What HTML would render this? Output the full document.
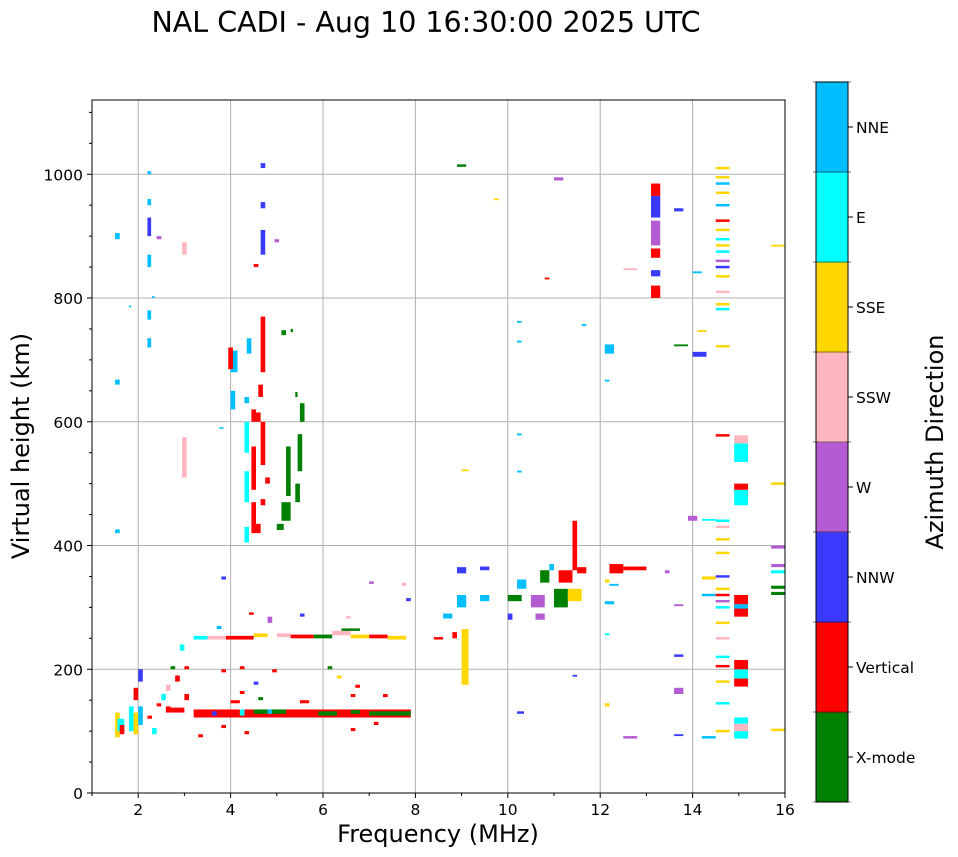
<!DOCTYPE html>
<html><head><meta charset="utf-8"><style>
body{margin:0;background:#fff;}
svg{display:block;font-family:"DejaVu Sans","Liberation Sans",sans-serif;}
</style></head><body>
<svg id="chart" width="958" height="857" viewBox="0 0 958 857">
<text x="426" y="32" font-size="28.5" text-anchor="middle">NAL CADI - Aug 10 16:30:00 2025 UTC</text>
<g id="grid"></g>
<g id="marks"></g>
<rect x="92" y="100" width="693" height="693" fill="none" stroke="#000" stroke-width="1"/>
<g id="axes"></g>
<text x="438" y="842" font-size="24" text-anchor="middle">Frequency (MHz)</text>
<text transform="translate(29,446) rotate(-90)" font-size="24" text-anchor="middle">Virtual height (km)</text>
<g id="cbar"></g>
<text transform="translate(943,442) rotate(-90)" font-size="24" text-anchor="middle">Azimuth Direction</text>
</svg>
<script>
const directions = ["X-mode","Vertical","NNW","W","SSW","SSE","E","NNE"];
const dirColors = ["#008000","#ff0000","#3a3aff","#b45ad2","#ffb6c1","#ffd700","#00ffff","#00bfff"];
const xTicks = [2,4,6,8,10,12,14,16];
const yTicks = [0,200,400,600,800,1000];
// echoes: [freqStart, freqEnd, heightLow, heightHigh, directionIndex]
const lowBand = [
[3.2,7.9,122,135,1],[4.5,5.2,128,135,0],[5.9,6.3,125,132,0],[7.0,7.9,125,132,0],[6.6,6.8,128,134,0],
[4.2,4.3,125,135,6],[4.8,4.9,128,135,7],[3.6,3.7,125,132,2],[4.0,4.2,145,150,1],[3.8,3.9,105,110,1],
[4.3,4.4,95,100,1],[4.2,4.3,160,165,1],[4.5,4.6,175,180,2],[4.6,4.7,150,155,0],[4.9,5.0,195,200,1],
[5.5,5.7,145,150,1],[6.1,6.2,200,205,0],[6.3,6.4,185,190,5],[6.6,6.7,155,160,1],[6.7,6.8,170,175,1],
[7.3,7.4,155,160,1],[6.6,6.7,100,105,1],[7.1,7.2,110,115,1],[2.7,2.8,200,205,0],[2.8,2.9,180,190,1],
[2.6,2.7,165,175,4],[2.5,2.6,150,160,6],[2.4,2.5,140,145,1],[2.2,2.3,120,125,1],[2.3,2.4,95,105,6],
[2.0,2.1,180,200,2],[1.9,2.0,150,170,1],[1.5,1.6,90,130,5],[1.55,1.7,100,120,6],[1.6,1.7,95,110,1],
[1.8,1.9,100,140,6],[1.9,2.0,95,130,5],[2.0,2.1,110,140,7],[2.6,2.7,130,140,1],[3.0,3.1,150,160,1],
[3.0,3.1,200,205,1],[3.3,3.4,90,95,1],[3.8,3.9,195,200,1],[4.2,4.3,200,205,1],[2.7,3.0,130,138,1]
];
const midBand = [
[3.2,3.5,248,254,6],[3.5,3.9,248,254,4],[3.9,4.5,248,254,1],[4.5,4.8,252,258,5],[5.0,5.3,252,258,4],
[5.3,5.8,250,256,1],[5.8,6.2,250,256,0],[6.2,6.6,255,262,4],[6.6,7.0,250,256,5],[7.0,7.4,250,256,1],
[7.4,7.8,248,254,5],[6.4,6.8,262,266,0],[3.7,3.8,265,270,7],[4.4,4.5,288,292,1],[4.8,4.9,275,285,3],
[5.5,5.6,285,290,2],[6.5,6.6,282,286,4],[7.7,7.8,335,340,4],[7.0,7.1,338,342,3],[7.8,7.9,310,315,2],
[2.9,3.0,230,240,6],[3.8,3.9,345,350,2]
];
const highTraces = [
[4.3,4.4,405,430,6],[4.3,4.4,470,520,6],[4.3,4.4,550,600,6],[4.3,4.4,630,640,7],[4.45,4.55,420,470,1],
[4.45,4.55,490,560,1],[4.45,4.55,600,620,1],[4.55,4.65,600,615,1],[4.65,4.75,465,475,1],[4.65,4.75,530,600,1],
[4.65,4.75,680,770,1],[4.55,4.65,420,435,1],[4.6,4.7,640,660,1],[4.75,4.85,500,510,1],[4.5,4.6,850,855,1],
[4.0,4.1,620,650,7],[4.0,4.15,680,715,7],[3.95,4.05,685,720,1],[4.35,4.45,710,735,7],
[4.65,4.75,870,910,2],[4.65,4.75,945,955,2],[4.65,4.75,1010,1018,2],[4.95,5.05,890,895,3],
[5.0,5.15,425,435,0],[5.1,5.3,440,470,0],[5.4,5.5,470,500,0],[5.45,5.55,520,580,0],[5.5,5.6,600,630,0],
[5.2,5.3,480,560,0],[5.4,5.45,640,648,0],[5.1,5.2,740,748,0],[5.3,5.35,745,750,0],
[2.95,3.05,510,575,4],[2.95,3.05,870,890,4],[2.2,2.28,1000,1005,7],[2.2,2.28,950,960,7],[2.2,2.28,900,930,2],
[2.2,2.28,850,870,7],[2.2,2.28,765,780,7],[2.2,2.28,720,735,7],[1.5,1.6,895,905,7],[1.5,1.6,660,668,7],
[1.5,1.6,420,426,7],[2.4,2.5,895,900,3],[2.3,2.35,800,803,7],[1.8,1.85,785,788,7],[3.75,3.85,589,591,7]
];
const fRegion = [
[8.9,9.1,1012,1016,0],[9.0,9.15,175,265,5],[8.6,8.8,282,290,7],[8.8,8.9,250,260,1],[8.4,8.6,248,252,1],
[8.9,9.1,300,320,7],[8.9,9.1,355,365,2],[9.4,9.6,310,320,7],[9.4,9.6,360,366,2],[10.0,10.3,310,320,0],
[10.2,10.4,330,345,7],[10.5,10.8,300,320,3],[10.7,10.9,340,360,0],[11.0,11.3,300,330,0],[11.1,11.4,340,360,1],
[11.3,11.6,310,330,5],[11.4,11.5,360,440,1],[11.5,11.7,355,365,1],[10.6,10.8,280,290,3],[10.0,10.1,280,290,2],
[10.9,11.0,360,370,7],[12.2,12.5,355,370,1],[12.5,13.0,360,366,1],[12.1,12.3,305,310,7],[12.1,12.2,340,345,5],
[12.2,12.4,335,338,7],[12.1,12.2,255,258,6],[12.1,12.2,140,145,5],[12.5,12.8,88,92,3],[12.5,12.8,845,848,4],
[11.0,11.2,990,995,3],[10.8,10.9,830,833,1],[10.2,10.3,760,763,7],[10.2,10.3,728,731,7],[10.2,10.3,578,581,7],
[10.2,10.3,518,521,7],[9.0,9.15,520,523,5],[9.7,9.8,958,961,5],[10.2,10.35,128,132,2],[11.4,11.5,188,191,2],
[11.6,11.7,755,758,7],[12.1,12.3,710,725,7],[12.1,12.2,665,668,7],
[13.1,13.3,800,820,1],[13.1,13.3,835,845,2],[13.1,13.3,865,880,1],[13.1,13.3,885,925,3],[13.1,13.3,930,965,2],
[13.1,13.3,965,985,1],[13.4,13.5,355,360,3],[13.6,13.8,302,305,3],[13.6,13.8,220,224,2],[13.6,13.8,160,170,3],
[13.6,13.8,92,95,2],[13.6,13.8,940,945,2],[13.6,13.9,722,725,0],[13.9,14.1,440,448,3],[14.0,14.3,705,713,2],
[14.0,14.2,840,843,7],[14.1,14.3,745,748,5],[14.2,14.5,88,92,7],[14.2,14.5,440,443,6],[14.2,14.5,345,350,5],
[14.2,14.5,318,322,7]
];
const dashHeights = [1010,995,985,970,950,925,910,895,885,875,860,850,835,810,790,782,722,578,440,430,410,388,350,330,320,310,300,275,250,220,205,180,145,100];
const dashDirs = [5,5,7,5,7,1,5,6,5,6,3,2,5,4,5,6,5,1,6,4,5,5,2,5,1,3,6,5,4,6,1,5,6,5];
const farRight = [
[14.9,15.2,88,100,6],[14.9,15.2,100,112,4],[14.9,15.2,112,122,6],[14.9,15.2,172,185,1],[14.9,15.2,185,200,6],
[14.9,15.2,200,215,1],[14.9,15.2,285,305,1],[14.9,15.2,305,320,1],[14.9,15.2,298,305,7],[14.9,15.2,465,490,6],
[14.9,15.2,490,500,1],[14.9,15.2,535,565,6],[14.9,15.2,565,578,4],
[15.7,16,883,886,5],[15.7,16,498,502,5],[15.7,16,395,400,3],[15.7,16,365,370,3],[15.7,16,355,360,6],
[15.7,16,330,335,0],[15.7,16,320,325,0],[15.7,16,100,104,5]
];

const NS="http://www.w3.org/2000/svg";
const X0=92,X1=785,Y0=793,Y1=100,FMIN=1,FMAX=16,HMIN=0,HMAX=1120;
function xs(f){return X0+(f-FMIN)/(FMAX-FMIN)*(X1-X0);}
function ys(h){return Y0-(h-HMIN)/(HMAX-HMIN)*(Y0-Y1);}
function mk(tag,attrs,parent){const e=document.createElementNS(NS,tag);for(const k in attrs)e.setAttribute(k,attrs[k]);parent.appendChild(e);return e;}

const grid=document.getElementById('grid'),axes=document.getElementById('axes'),marks=document.getElementById('marks'),cbar=document.getElementById('cbar');
xTicks.forEach(v=>{
  const x=xs(v);
  if(v<FMAX){const g=mk('line',{x1:x,x2:x,y1:Y1,y2:Y0,stroke:'#b0b0b0','stroke-width':1},grid);
  
  }
  mk('line',{x1:x,x2:x,y1:Y0,y2:Y0+5,stroke:'#000'},axes);
  const t=mk('text',{x:x,y:Y0+22,'font-size':15.5,'text-anchor':'middle'},axes);t.textContent=v;
  
  
});
for(let v=1;v<FMAX;v+=2){mk('line',{x1:xs(v),x2:xs(v),y1:Y0,y2:Y0+3,stroke:'#000'},axes);}
yTicks.forEach(v=>{
  const y=ys(v);
  if(v>0){const g=mk('line',{x1:X0,x2:X1,y1:y,y2:y,stroke:'#b0b0b0','stroke-width':1},grid);
  
  }
  mk('line',{x1:X0-5,x2:X0,y1:y,y2:y,stroke:'#000'},axes);
  const t=mk('text',{x:X0-9,y:y+6,'font-size':15.5,'text-anchor':'end'},axes);t.textContent=v;
  
  
});
for(let v=50;v<HMAX;v+=50){if(v%200)mk('line',{x1:X0-3,x2:X0,y1:ys(v),y2:ys(v),stroke:'#000'},axes);}

function draw(arr){arr.forEach(d=>{
  const r=mk('rect',{x:xs(d[0]),y:ys(d[3]),width:Math.max(1,xs(d[1])-xs(d[0])),height:Math.max(1.5,ys(d[2])-ys(d[3])),fill:dirColors[d[4]]},marks);
  
  
});}
draw(lowBand);draw(midBand);draw(highTraces);draw(fRegion);draw(farRight);
dashHeights.forEach((h,i)=>{
  const r=mk('rect',{x:xs(14.5),y:ys(h+2),width:xs(14.8)-xs(14.5),height:ys(h-2)-ys(h+2),fill:dirColors[dashDirs[i]]},marks);
  
  
});

const CX=816,CW=32,CT=82,CB=802,seg=(CB-CT)/directions.length;
directions.forEach((n,i)=>{
  const y=CB-(i+1)*seg;
  const r=mk('rect',{x:CX,y:y,width:CW,height:seg+0.5,fill:dirColors[i]},cbar);
  
  
  mk('line',{x1:CX+CW,x2:CX+CW+5,y1:y+seg/2,y2:y+seg/2,stroke:'#000'},cbar);
  const t=mk('text',{x:CX+CW+8,y:y+seg/2+6,'font-size':15.5},cbar);t.textContent=n;
  
  
});
for(let i=0;i<=directions.length;i++){mk('line',{x1:CX-3,x2:CX+CW+3,y1:CB-i*seg,y2:CB-i*seg,stroke:'#000','stroke-width':0.6},cbar);}
mk('rect',{x:CX,y:CT,width:CW,height:CB-CT,fill:'none',stroke:'#000','stroke-width':1},cbar);
</script>
</body></html>
